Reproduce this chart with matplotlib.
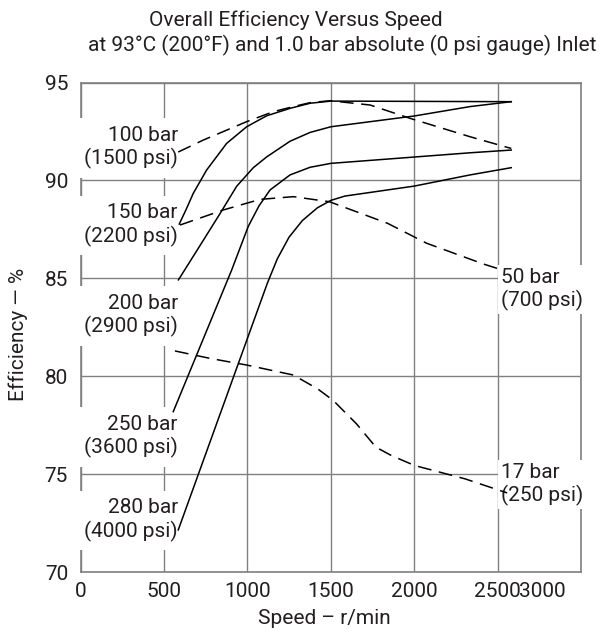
import numpy as np
import matplotlib.pyplot as plt
from matplotlib.transforms import ScaledTranslation

plt.rcParams['font.family'] = ['Roboto', 'DejaVu Sans']

# curves (speed in r/min, efficiency in %)
speed_100 = [586, 736, 996, 1156, 1276, 1376, 1496, 1736, 1975, 2335, 2582]
eff_100 = [91.45, 92.06, 93.0, 93.51, 93.77, 93.97, 94.07, 93.85, 93.17, 92.23, 91.63]

speed_150 = [592, 636, 676, 756, 876, 996, 1116, 1256, 1376, 1501, 2582]
eff_150 = [87.77, 88.57, 89.34, 90.53, 91.89, 92.74, 93.3, 93.68, 93.94, 94.05, 94.02]

speed_200 = [587, 700, 836, 936, 1036, 1116, 1256, 1376, 1501, 2001, 2335, 2582]
eff_200 = [84.92, 86.45, 88.3, 89.7, 90.65, 91.2, 92.0, 92.45, 92.74, 93.29, 93.77, 94.02]

speed_250 = [556, 906, 1005, 1070, 1136, 1256, 1376, 1501, 2335, 2582]
eff_250 = [78.19, 85.42, 87.64, 88.7, 89.51, 90.28, 90.67, 90.87, 91.41, 91.55]

speed_280 = [586, 1120, 1180, 1250, 1330, 1420, 1501, 1585, 2001, 2335, 2582]
eff_280 = [72.15, 84.75, 86.0, 87.1, 87.95, 88.6, 88.98, 89.2, 89.71, 90.28, 90.65]

speed_50 = [596, 856, 1076, 1276, 1492, 1840, 2075, 2415, 2515]
eff_50 = [87.72, 88.49, 89.03, 89.17, 88.91, 87.81, 86.79, 85.73, 85.46]

speed_17 = [566, 776, 996, 1276, 1422, 1515, 1654, 1770, 1863, 2002, 2304, 2557]
eff_17 = [81.29, 80.91, 80.57, 80.06, 79.35, 78.76, 77.57, 76.38, 75.95, 75.44, 74.76, 74.04]

left_labels = ['100 bar\n(1500 psi)', '150 bar\n(2200 psi)', '200 bar\n(2900 psi)',
               '250 bar\n(3600 psi)', '280 bar\n(4000 psi)']
left_label_y = [91.68, 87.72, 83.1, 76.92, 72.66]
right_labels = ['50 bar\n(700 psi)', '17 bar\n(250 psi)']
right_label_y = [84.43, 74.47]

x_ticks = [0, 500, 1000, 1500, 2000, 2500, 3000]
y_ticks = [70, 75, 80, 85, 90, 95]

fig = plt.figure(figsize=(6.07, 6.33), dpi=100)
ax = fig.add_axes([80.5 / 607, 1 - 572 / 633, 500.5 / 607, 489.5 / 633])

grey = '#808080'
ink = '#231f20'
fs = 15
solid = dict(color='black', lw=1.1, zorder=4)
dashed = dict(color='black', lw=1.1, dashes=(9, 5), zorder=4)

ax.plot(speed_150, eff_150, **solid)
ax.plot(speed_200, eff_200, **solid)
ax.plot(speed_250, eff_250, **solid)
ax.plot(speed_280, eff_280, **solid)
ax.plot(speed_100, eff_100, **dashed)
ax.plot(speed_50, eff_50, **dashed)
ax.plot(speed_17, eff_17, **dashed)

for txt, y in zip(left_labels, left_label_y):
    ax.text(583, y, txt, ha='right', va='center', fontsize=fs, color=ink,
            linespacing=1.2, zorder=3,
            bbox=dict(boxstyle='square,pad=0.4', fc='white', ec='none'))
for txt, y in zip(right_labels, right_label_y):
    ax.text(2522, y, txt, ha='left', va='center', fontsize=fs, color=ink,
            linespacing=1.2, zorder=3,
            bbox=dict(boxstyle='square,pad=0.15', fc='white', ec='none'))

ax.set_xlim(0, 3000)
ax.set_ylim(70, 95)
ax.set_xticks(x_ticks)
ax.set_xticklabels([str(v) for v in x_ticks])
ax.set_yticks(y_ticks)
ax.tick_params(length=0, labelsize=fs, labelcolor=ink)
ax.tick_params(axis='x', pad=7)
ax.tick_params(axis='y', pad=9)
ax.grid(color=grey, lw=1.0, zorder=1)
ax.set_axisbelow(True)
for s in ax.spines.values():
    s.set_color(grey)
    s.set_linewidth(1.2)

# last tick label sits to the left of its tick, as in the source
lab = ax.get_xticklabels()[-1]
lab.set_transform(lab.get_transform() + ScaledTranslation(-0.39, 0, fig.dpi_scale_trans))

fig.text(296 / 607, 1 - 20 / 633, 'Overall Efficiency Versus Speed',
         ha='center', va='center', fontsize=fs, color=ink)
fig.text(342 / 607, 1 - 45 / 633, 'at 93°C (200°F) and 1.0 bar absolute (0 psi gauge) Inlet',
         ha='center', va='center', fontsize=fs, color=ink)
fig.text(324 / 607, 1 - 618 / 633, 'Speed – r/min',
         ha='center', va='center', fontsize=fs, color=ink)
fig.text(18 / 607, 1 - 334 / 633, 'Efficiency — %', rotation=90,
         ha='center', va='center', fontsize=fs, color=ink)

fig.savefig('out.png', dpi=100)
